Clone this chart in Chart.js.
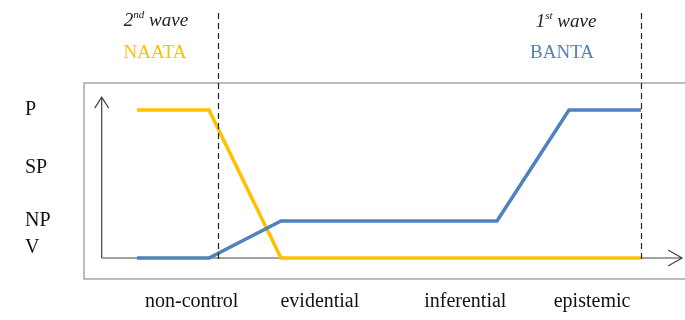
<!DOCTYPE html>
<html>
<head>
<meta charset="utf-8">
<script src="https://cdn.jsdelivr.net/npm/chart.js@4.4.1/dist/chart.umd.min.js"></script>
<style>
  html, body { margin: 0; padding: 0; background: #fff; }
  #wrap { position: relative; width: 685px; height: 320px; }
</style>
</head>
<body>
<div id="wrap"><canvas id="waveChart"></canvas></div>
<script>
// steps along the horizontal axis
var steps = [0, 1, 2, 3, 4, 5, 6, 7];
// levels: V = 0, NP = 1, SP = 2.5, P = 4
var naataValues = [4, 4, 0, 0, 0, 0, 0, 0];
var bantaValues = [0, 0, 1, 1, 1, 1, 4, 4];

var levelLabels = ['V', 'NP', 'SP', 'P'];
var levelTicks = [0.28, 1, 2.43, 4.02];

var domainLabels = ['non-control', 'evidential', 'inferential', 'epistemic'];
var domainTicks = [0.76, 2.54, 4.56, 6.32];

var waveLines = [1.12, 7];

var serif = '"Liberation Serif", "Times New Roman", serif';

function toPoints(vals) {
  return steps.map(function (s, i) { return { x: s, y: vals[i] }; });
}

function drawSup(ctx, base, sup, rest, cx, cy) {
  ctx.font = 'italic 19px ' + serif;
  var w1 = ctx.measureText(base).width;
  var w3 = ctx.measureText(rest).width;
  ctx.font = 'italic 11px ' + serif;
  var w2 = ctx.measureText(sup).width;
  var x = cx - (w1 + w2 + w3) / 2;
  ctx.textAlign = 'left';
  ctx.textBaseline = 'middle';
  ctx.font = 'italic 19px ' + serif;
  ctx.fillText(base, x, cy);
  ctx.font = 'italic 11px ' + serif;
  ctx.fillText(sup, x + w1, cy - 6);
  ctx.font = 'italic 19px ' + serif;
  ctx.fillText(rest, x + w1 + w2, cy);
}

var decor = {
  id: 'decor',
  beforeDatasetsDraw: function (chart) {
    var ctx = chart.ctx, a = chart.chartArea, x = chart.scales.x, y = chart.scales.y;
    ctx.save();
    // frame
    ctx.strokeStyle = '#a6a6a6';
    ctx.lineWidth = 1.5;
    ctx.strokeRect(a.left, a.top, a.right - a.left + 10, a.bottom - a.top);
    // axes with open arrow heads
    var ox = x.getPixelForValue(-0.49), oy = y.getPixelForValue(0);
    var topY = y.getPixelForValue(4.35), endX = x.getPixelForValue(7.57);
    ctx.strokeStyle = '#444';
    ctx.lineWidth = 1.2;
    ctx.beginPath();
    ctx.moveTo(ox, oy); ctx.lineTo(ox, topY);
    ctx.moveTo(ox, oy); ctx.lineTo(endX, oy);
    ctx.moveTo(ox - 7, topY + 11); ctx.lineTo(ox, topY); ctx.lineTo(ox + 7, topY + 11);
    ctx.moveTo(endX - 14, oy - 8); ctx.lineTo(endX, oy); ctx.lineTo(endX - 14, oy + 8);
    ctx.stroke();
    ctx.restore();
  },
  afterDatasetsDraw: function (chart) {
    var ctx = chart.ctx, x = chart.scales.x, y = chart.scales.y;
    ctx.save();
    // wave boundaries
    ctx.strokeStyle = '#222';
    ctx.lineWidth = 1.2;
    ctx.setLineDash([6, 4]);
    waveLines.forEach(function (v) {
      var px = Math.round(x.getPixelForValue(v)) + 0.5;
      ctx.beginPath();
      ctx.moveTo(px, 13);
      ctx.lineTo(px, y.getPixelForValue(0) + 4);
      ctx.stroke();
    });
    ctx.setLineDash([]);
    // headers
    ctx.fillStyle = '#222';
    drawSup(ctx, '2', 'nd', ' wave', 156, 21);
    drawSup(ctx, '1', 'st', ' wave', 566, 22);
    ctx.textAlign = 'center';
    ctx.textBaseline = 'middle';
    ctx.font = '19px ' + serif;
    ctx.fillStyle = '#ffc000';
    ctx.fillText('NAATA', 155, 53);
    ctx.fillStyle = '#4f81bd';
    ctx.fillText('BANTA', 562, 53);
    ctx.restore();
  }
};

new Chart(document.getElementById('waveChart'), {
  type: 'line',
  data: {
    datasets: [{
      label: 'BANTA',
      data: toPoints(bantaValues),
      borderColor: '#4f81bd',
      borderWidth: 3.5,
      pointRadius: 0,
      tension: 0,
      borderJoinStyle: 'miter'
    }, {
      label: 'NAATA',
      data: toPoints(naataValues),
      borderColor: '#ffc000',
      borderWidth: 3.5,
      pointRadius: 0,
      tension: 0,
      borderJoinStyle: 'miter'
    }]
  },
  options: {
    responsive: true,
    maintainAspectRatio: false,
    animation: false,
    layout: { padding: { left: 25, top: 83, right: 0, bottom: 0 } },
    plugins: { legend: { display: false }, tooltip: { enabled: false } },
    scales: {
      x: {
        type: 'linear',
        min: -0.736,
        max: 7.611,
        grid: { display: false },
        border: { display: false },
        afterBuildTicks: function (scale) {
          scale.ticks = domainTicks.map(function (v) { return { value: v }; });
        },
        afterFit: function (scale) { scale.height = 41; },
        ticks: {
          autoSkip: false,
          maxRotation: 0,
          padding: 3,
          color: '#111',
          font: { family: serif, size: 20 },
          callback: function (v, i) { return domainLabels[i]; }
        }
      },
      y: {
        min: -0.568,
        max: 4.73,
        grid: { display: false },
        border: { display: false },
        afterBuildTicks: function (scale) {
          scale.ticks = levelTicks.map(function (v) { return { value: v }; });
        },
        afterFit: function (scale) { scale.width = 59; },
        ticks: {
          crossAlign: 'far',
          color: '#111',
          font: { family: serif, size: 20 },
          callback: function (v, i) { return levelLabels[i]; }
        }
      }
    }
  },
  plugins: [decor]
});
</script>
</body>
</html>
